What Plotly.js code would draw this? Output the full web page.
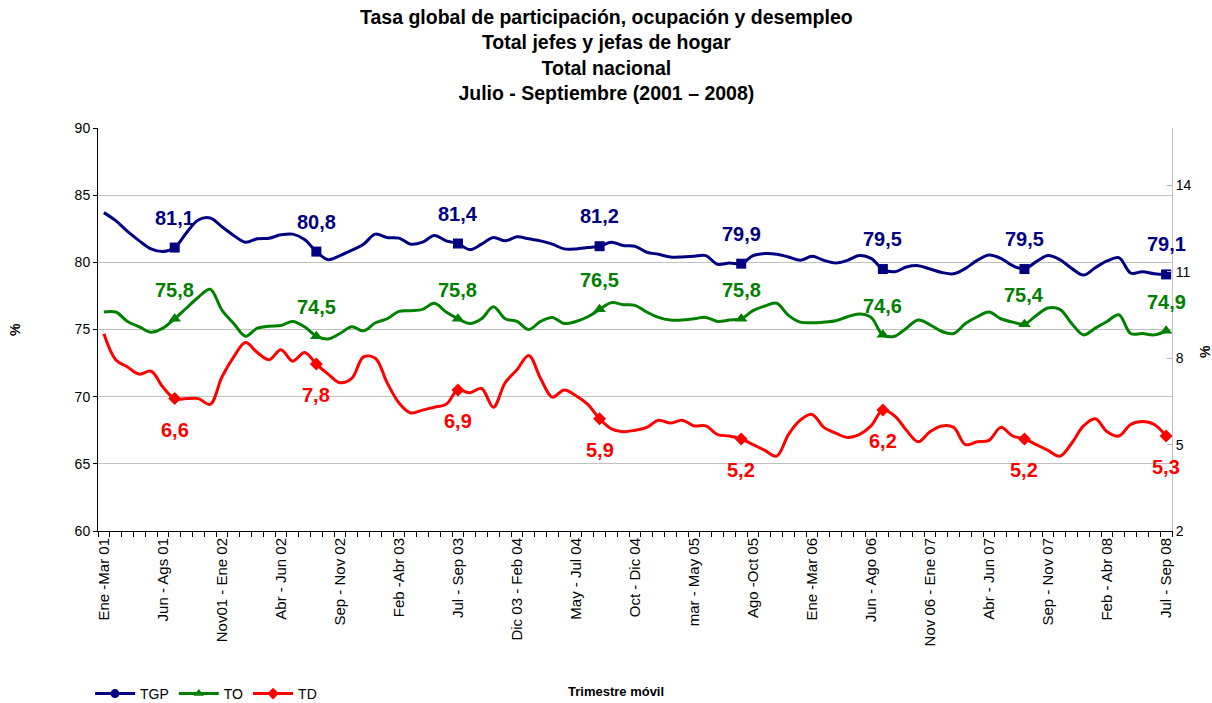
<!DOCTYPE html>
<html>
<head>
<meta charset="utf-8">
<script src="https://cdn.plot.ly/plotly-3.0.1.min.js"></script>
<style>html,body{margin:0;padding:0;background:#fff}#chart{width:1212px;height:703px}</style>
</head>
<body>
<div id="chart"></div>
<script>
// ---- data ----
var titleLines = ["Tasa global de participación, ocupación y desempleo", "Total jefes y jefas de hogar", "Total nacional", "Julio - Septiembre (2001 – 2008)"];
var tickIdx = [0,5,10,15,20,25,30,35,40,45,50,55,60,65,70,75,80,85,90];
var tickLabels = ["Ene -Mar 01","Jun - Ags 01","Nov01 - Ene 02","Abr - Jun 02","Sep - Nov 02","Feb -Abr 03","Jul - Sep 03","Dic 03 - Feb 04","May - Jul 04","Oct - Dic 04","mar - May 05","Ago -Oct 05","Ene -Mar 06","Jun - Ago 06","Nov 06 - Ene 07","Abr - Jun 07","Sep - Nov 07","Feb - Abr 08","Jul - Sep 08"];
var markIdx = [6,18,30,42,54,66,78,90];

var tgp = [83.7,83.1,82.3,81.6,81.0,80.8,81.1,82.2,83.15,83.3,
           82.65,82.0,81.5,81.75,81.8,82.05,82.1,81.7,80.8,80.2,
           80.5,80.9,81.35,82.1,81.85,81.8,81.35,81.5,82.0,81.6,
           81.4,80.95,81.35,81.85,81.6,81.9,81.75,81.6,81.35,81.0,
           81.0,81.1,81.2,81.5,81.25,81.2,80.75,80.6,80.4,80.4,
           80.45,80.5,79.85,79.95,79.9,80.5,80.65,80.6,80.4,80.15,
           80.45,80.15,79.95,80.15,80.5,80.3,79.5,79.3,79.65,79.75,
           79.5,79.25,79.15,79.55,80.15,80.55,80.3,79.75,79.5,80.05,
           80.5,80.2,79.55,79.05,79.6,80.1,80.35,79.2,79.3,79.15,
           79.1];
var to = [76.3,76.3,75.6,75.2,74.8,75.1,75.8,76.6,77.4,78.0,
          76.45,75.45,74.5,75.1,75.25,75.3,75.6,75.2,74.5,74.3,
          74.7,75.2,74.9,75.5,75.8,76.35,76.4,76.5,76.95,76.3,
          75.8,75.45,75.8,76.7,75.8,75.6,75.0,75.6,75.9,75.45,
          75.6,75.95,76.5,77.0,76.85,76.8,76.3,75.9,75.7,75.7,
          75.8,75.9,75.6,75.7,75.8,76.4,76.75,76.95,76.05,75.55,
          75.5,75.55,75.65,75.95,76.15,75.9,74.6,74.5,75.1,75.7,
          75.35,74.85,74.7,75.45,75.95,76.3,75.8,75.55,75.4,76.05,
          76.6,76.5,75.45,74.6,75.1,75.6,76.1,74.7,74.7,74.6,
          74.9];
var td = [8.85,7.95,7.7,7.45,7.55,7.0,6.6,6.6,6.6,6.4,
          7.35,8.05,8.55,8.2,7.95,8.3,7.9,8.2,7.8,7.45,
          7.15,7.3,8.05,8.0,7.15,6.45,6.1,6.2,6.3,6.4,
          6.9,6.8,6.95,6.3,7.15,7.6,8.1,7.3,6.65,6.9,
          6.7,6.4,5.9,5.55,5.45,5.5,5.6,5.85,5.75,5.85,
          5.65,5.65,5.35,5.3,5.2,5.0,4.8,4.6,5.35,5.85,
          6.05,5.6,5.4,5.25,5.35,5.65,6.2,6.0,5.5,5.1,
          5.45,5.65,5.6,5.0,5.1,5.15,5.6,5.3,5.2,5.0,
          4.8,4.6,5.05,5.65,5.9,5.45,5.3,5.7,5.8,5.7,
          5.3];

// ---- chart ----
var FONT = "Liberation Sans, Arial, sans-serif";
var xs = tgp.map(function(_, i){ return i; });
function pick(arr){ return markIdx.map(function(i){ return arr[i]; }); }
function fmt(v){ return v.toFixed(1).replace('.', ','); }

var series = [
  {name:'TGP', y:tgp, color:'#000080', sym:'square', legSym:'circle', msize:10, axis:'y', shift:30},
  {name:'TO',  y:to,  color:'#008000', sym:'triangle-up', legSym:'triangle-up', msize:11, axis:'y', shift:29},
  {name:'TD',  y:td,  color:'#FF0000', sym:'diamond', legSym:'diamond', msize:10, axis:'y2', shift:-31}
];

var traces = [];
var annotations = [];
series.forEach(function(s){
  traces.push({x:xs, y:s.y, yaxis:s.axis, mode:'lines', showlegend:false, hoverinfo:'skip',
    line:{color:s.color, width:3, shape:'spline', smoothing:1}});
  traces.push({x:markIdx, y:pick(s.y), yaxis:s.axis, mode:'markers', showlegend:false,
    marker:{symbol:s.sym, size:s.msize, color:s.color}});
  traces.push({x:[null], y:[null], yaxis:s.axis, name:s.name, mode:'lines+markers', showlegend:true,
    line:{color:s.color, width:3}, marker:{symbol:s.legSym, size:9, color:s.color}});
  pick(s.y).forEach(function(v, k){
    annotations.push({x:markIdx[k], y:v, xref:'x', yref:s.axis, text:fmt(v), showarrow:false,
      yshift:s.shift, font:{family:FONT, size:20, color:s.color, weight:'bold'}});
  });
});

annotations.push({xref:'paper', yref:'paper', x:0.473, y:(531-55)/403, xanchor:'center', yanchor:'middle',
  text:titleLines.join('<br>'), showarrow:false, font:{family:FONT, size:19.5, color:'#000', weight:'bold'}});
annotations.push({xref:'paper', yref:'paper', x:(15-98)/1074, y:(531-330)/403, xanchor:'center', yanchor:'middle',
  text:'%', textangle:-90, showarrow:false, font:{family:FONT, size:14, color:'#000', weight:'bold'}});
annotations.push({xref:'paper', yref:'paper', x:(1205-98)/1074, y:(531-352)/403, xanchor:'center', yanchor:'middle',
  text:'%', textangle:-90, showarrow:false, font:{family:FONT, size:14, color:'#000', weight:'bold'}});
annotations.push({xref:'paper', yref:'paper', x:(616-98)/1074, y:(531-691)/403, xanchor:'center', yanchor:'middle',
  text:'Trimestre móvil', showarrow:false, font:{family:FONT, size:13, color:'#000', weight:'bold'}});

var layout = {
  width:1212, height:703,
  margin:{l:98, r:40, t:128, b:172, autoexpand:false},
  paper_bgcolor:'#fff', plot_bgcolor:'#fff',
  font:{family:FONT, color:'#000'},
  showlegend:true,
  legend:{orientation:'h', xref:'container', yref:'container', x:90/1212, xanchor:'left', y:1-694/703, yanchor:'middle',
    font:{family:FONT, size:14, color:'#000'}, bgcolor:'rgba(0,0,0,0)', itemwidth:40, tracegroupgap:0},
  xaxis:{range:[-0.5,90.5], tickmode:'array', tickvals:tickIdx, ticktext:tickLabels, automargin:false,
    tickangle:-90, ticks:'', showgrid:false, zeroline:false, showline:true, linecolor:'#000', linewidth:1,
    tickfont:{family:FONT, size:15, color:'#000'},
    minor:{tickmode:'linear', tick0:-0.5, dtick:1, ticks:'outside', ticklen:5, tickcolor:'#000', showgrid:false}},
  yaxis:{range:[60,90], tickmode:'linear', tick0:60, dtick:5, ticks:'outside', ticklen:4, tickcolor:'#000',
    showline:true, linecolor:'#000', linewidth:1, showgrid:true, gridcolor:'#c0c0c0', gridwidth:1, automargin:false,
    zeroline:false, tickfont:{family:FONT, size:14, color:'#000'}},
  yaxis2:{range:[2,16], overlaying:'y', side:'right', tickmode:'array', tickvals:[2,5,8,11,14], automargin:false,
    ticks:'inside', ticklen:5, tickcolor:'#b0b0b0', showline:true, linecolor:'#c0c0c0', linewidth:1,
    showgrid:false, zeroline:false, tickfont:{family:FONT, size:14, color:'#000'}},
  annotations:annotations
};

Plotly.newPlot('chart', traces, layout, {displayModeBar:false, staticPlot:true});
</script>
</body>
</html>
